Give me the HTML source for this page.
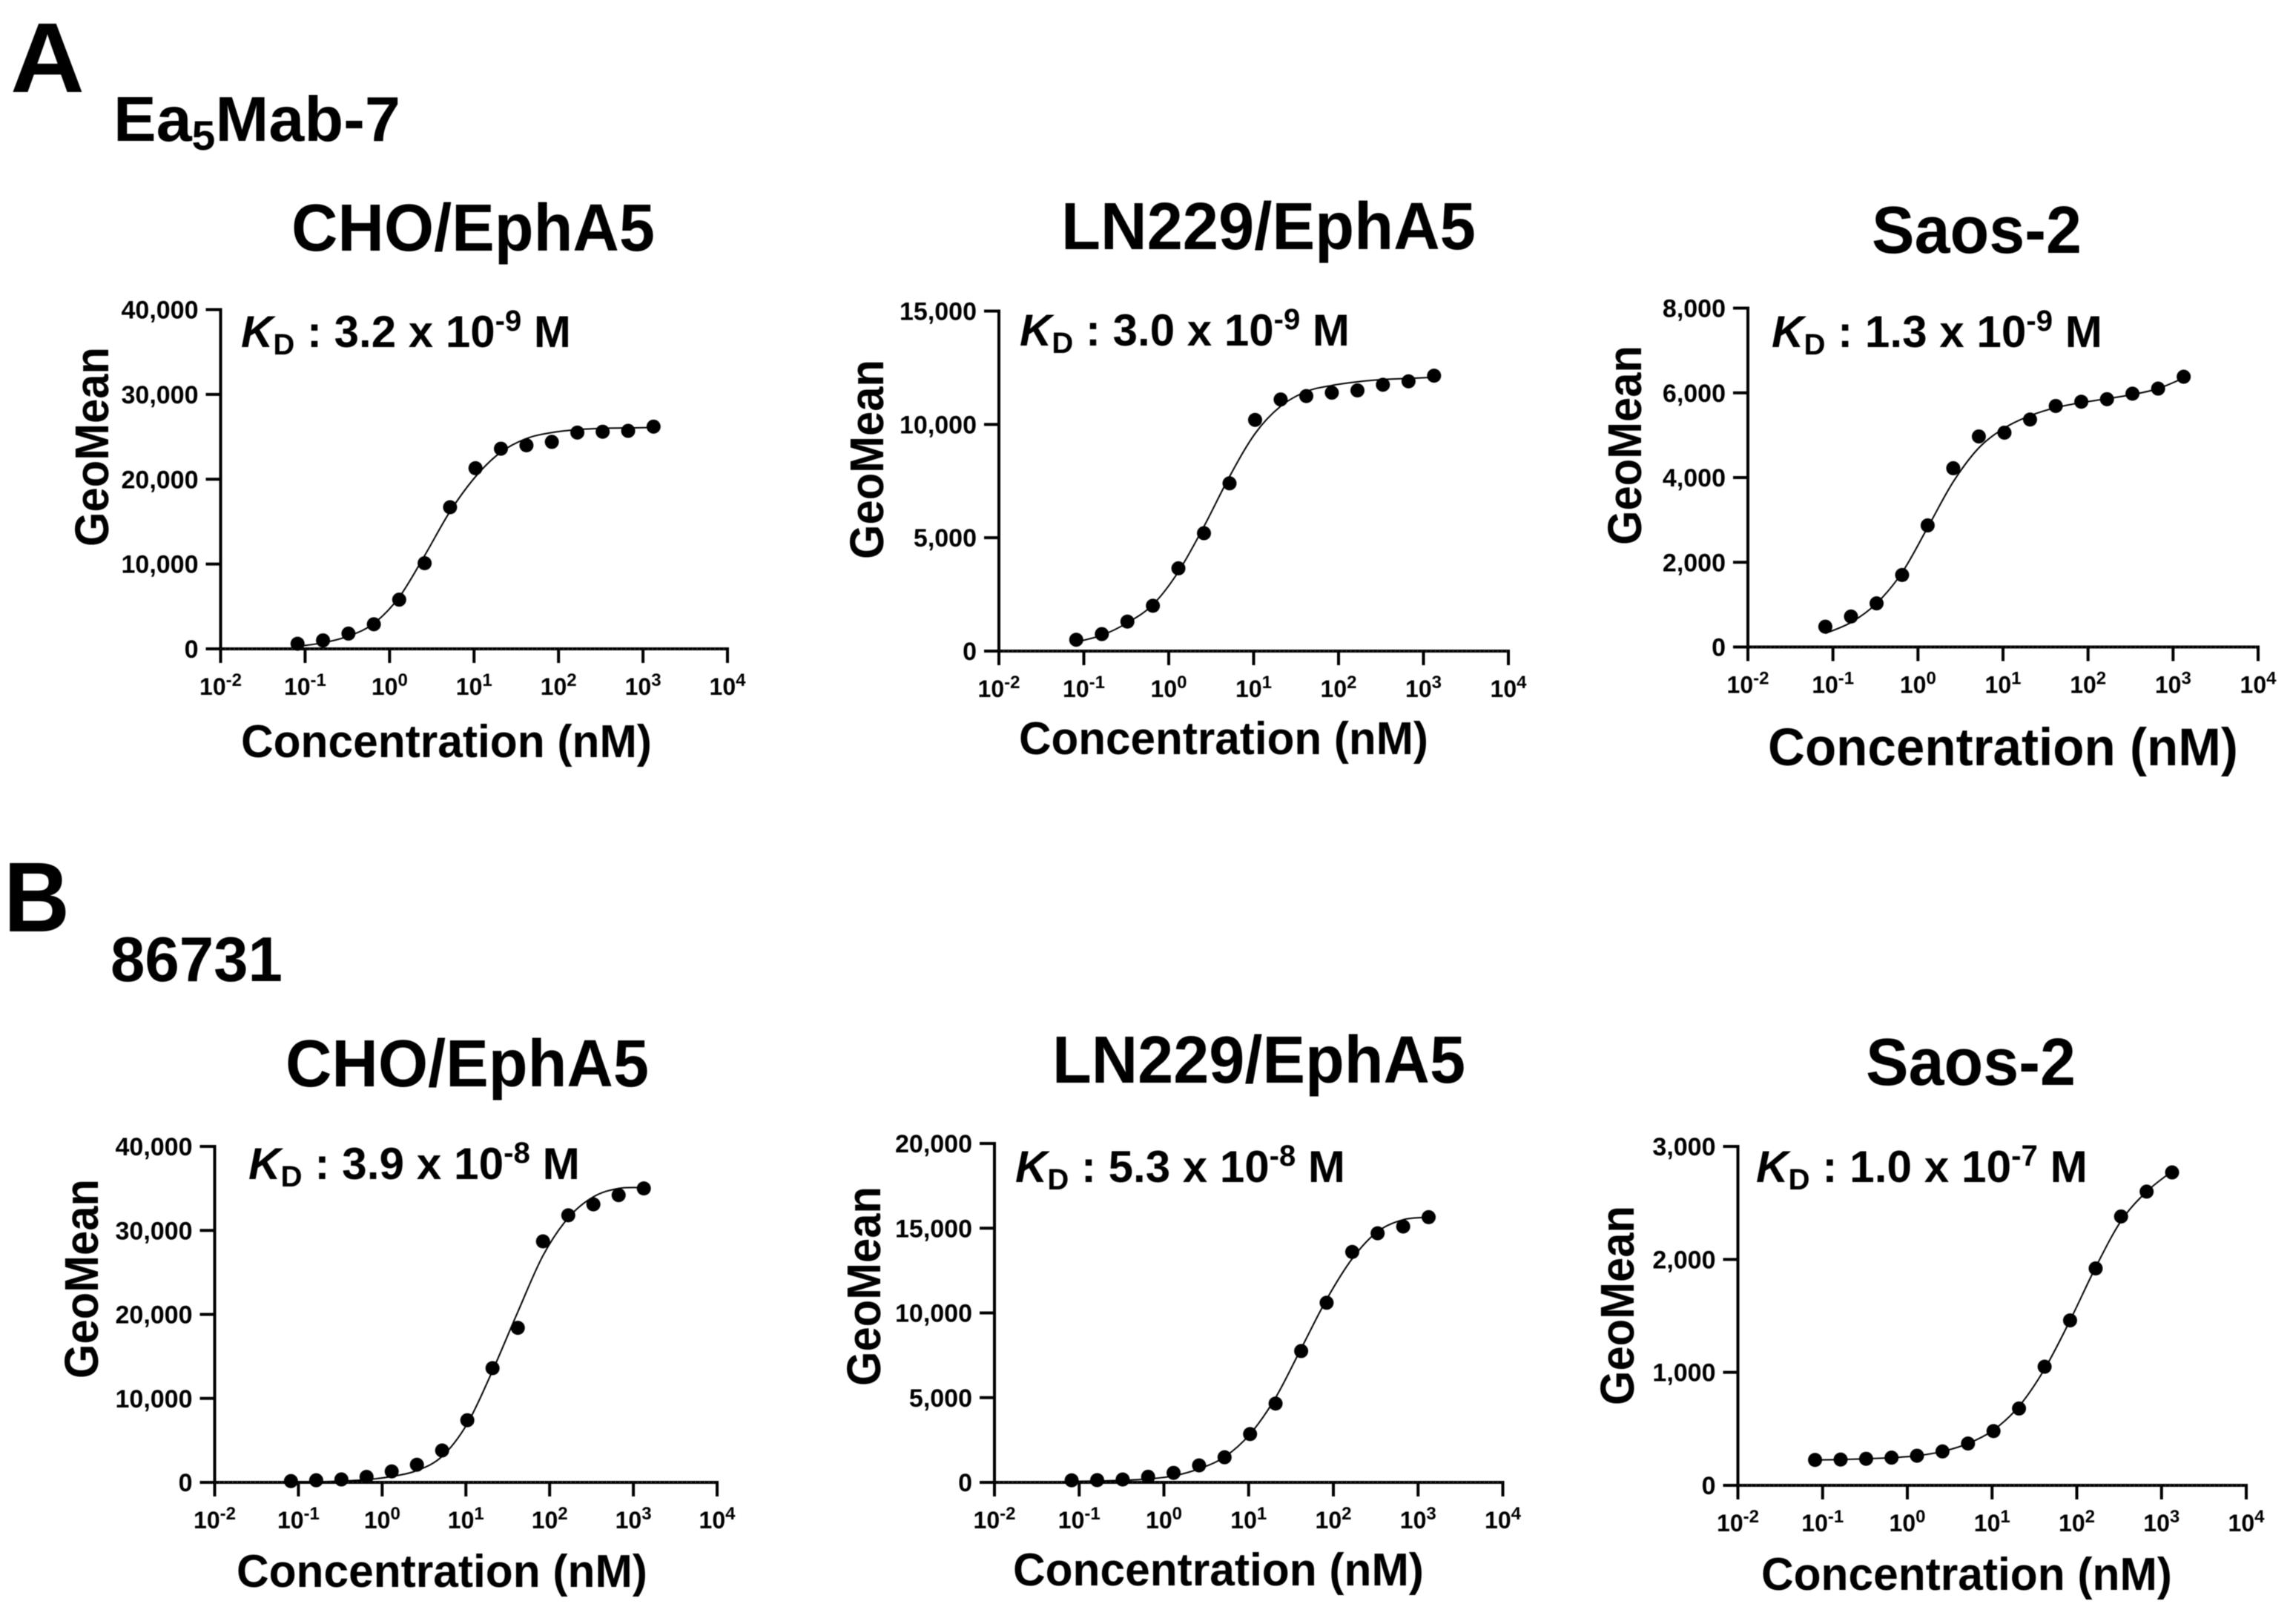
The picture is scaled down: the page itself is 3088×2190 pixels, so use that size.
<!DOCTYPE html>
<html lang="en">
<head>
<meta charset="utf-8">
<title>Ea5Mab-7 and 86731 binding curves</title>
<style>
html,body{margin:0;padding:0;background:#fff;width:3088px;height:2190px;overflow:hidden}
svg{display:block;filter:blur(0.6px)}
text{font-family:"Liberation Sans",Arial,sans-serif;font-weight:700;fill:#000;white-space:pre}
</style>
</head>
<body>
<svg id="figure" xmlns="http://www.w3.org/2000/svg" width="3088" height="2190" viewBox="0 0 3088 2190">
<rect width="3088" height="2190" fill="#fff"/>

<text class="fit" data-pos="14,124" data-w="100" font-size="134">A</text>
<text class="fit" data-pos="153,190" data-w="387" font-size="85">Ea<tspan font-size="56" dy="12">5</tspan><tspan dy="-12">Mab-7</tspan></text>
<text class="fit" data-pos="5,1256" data-w="89" font-size="134">B</text>
<text class="fit" data-pos="149,1323" data-w="232" font-size="85">86731</text>

<text class="fit" data-pos="393,338" data-w="490" font-size="90">CHO/EphA5</text>
<text class="fit" data-pos="1431,336" data-w="559" font-size="90">LN229/EphA5</text>
<text class="fit" data-pos="2524,341" data-w="283" font-size="90">Saos-2</text>
<text class="fit" data-pos="385,1465" data-w="490" font-size="90">CHO/EphA5</text>
<text class="fit" data-pos="1419,1460" data-w="557" font-size="90">LN229/EphA5</text>
<text class="fit" data-pos="2516,1463" data-w="283" font-size="90">Saos-2</text>

<text class="fit" data-pos="325,468" data-w="445" font-size="60"><tspan font-style="italic">K</tspan><tspan font-size="40" dy="10">D</tspan><tspan dy="-10"> : 3.2 x 10</tspan><tspan font-size="40" dy="-22">-9</tspan><tspan dy="22"> M</tspan></text>
<text class="fit" data-pos="1375,466" data-w="445" font-size="60"><tspan font-style="italic">K</tspan><tspan font-size="40" dy="10">D</tspan><tspan dy="-10"> : 3.0 x 10</tspan><tspan font-size="40" dy="-22">-9</tspan><tspan dy="22"> M</tspan></text>
<text class="fit" data-pos="2389,468" data-w="446" font-size="60"><tspan font-style="italic">K</tspan><tspan font-size="40" dy="10">D</tspan><tspan dy="-10"> : 1.3 x 10</tspan><tspan font-size="40" dy="-22">-9</tspan><tspan dy="22"> M</tspan></text>
<text class="fit" data-pos="335,1590" data-w="447" font-size="60"><tspan font-style="italic">K</tspan><tspan font-size="40" dy="10">D</tspan><tspan dy="-10"> : 3.9 x 10</tspan><tspan font-size="40" dy="-22">-8</tspan><tspan dy="22"> M</tspan></text>
<text class="fit" data-pos="1369,1594" data-w="445" font-size="60"><tspan font-style="italic">K</tspan><tspan font-size="40" dy="10">D</tspan><tspan dy="-10"> : 5.3 x 10</tspan><tspan font-size="40" dy="-22">-8</tspan><tspan dy="22"> M</tspan></text>
<text class="fit" data-pos="2368,1594" data-w="447" font-size="60"><tspan font-style="italic">K</tspan><tspan font-size="40" dy="10">D</tspan><tspan dy="-10"> : 1.0 x 10</tspan><tspan font-size="40" dy="-22">-7</tspan><tspan dy="22"> M</tspan></text>

<text class="fit" data-pos="325,1021" data-w="554" font-size="62">Concentration (nM)</text>
<text class="fit" data-pos="1374,1017" data-w="552" font-size="62">Concentration (nM)</text>
<text class="fit" data-pos="2384,1032" data-w="634" font-size="71">Concentration (nM)</text>
<text class="fit" data-pos="319,2140" data-w="554" font-size="62">Concentration (nM)</text>
<text class="fit" data-pos="1366,2138" data-w="554" font-size="62">Concentration (nM)</text>
<text class="fit" data-pos="2375,2144" data-w="554" font-size="62">Concentration (nM)</text>

<text class="fit" data-pos="146,737" data-rot="1" data-w="269" font-size="64">GeoMean</text>
<text class="fit" data-pos="1191,754" data-rot="1" data-w="269" font-size="64">GeoMean</text>
<text class="fit" data-pos="2213,735" data-rot="1" data-w="269" font-size="64">GeoMean</text>
<text class="fit" data-pos="132,1859" data-rot="1" data-w="269" font-size="64">GeoMean</text>
<text class="fit" data-pos="1187,1869" data-rot="1" data-w="269" font-size="64">GeoMean</text>
<text class="fit" data-pos="2203,1895" data-rot="1" data-w="269" font-size="64">GeoMean</text>

<g id="plots"></g>
</svg>

<script>
// Shared x data (nM) and x-axis decade exponents
const concentrations = [0.0814, 0.163, 0.326, 0.651, 1.3, 2.6, 5.2, 10.4, 20.8, 41.7, 83.3, 167, 333, 667, 1333];
const xTickExponents = [-2, -1, 0, 1, 2, 3, 4];

// Panel A: Ea5Mab-7
const a1YTicks = [0, 10000, 20000, 30000, 40000];
const a1Values = [600, 1000, 1800, 2900, 5800, 10100, 16700, 21300, 23600, 24000, 24400, 25500, 25600, 25700, 26200];
const a1Fit = [300, 720, 1500, 3000, 6100, 11000, 16200, 20300, 23200, 24800, 25500, 25850, 26000, 26050, 26100];

const a2YTicks = [0, 5000, 10000, 15000];
const a2Values = [500, 750, 1300, 2000, 3650, 5200, 7400, 10200, 11100, 11250, 11400, 11500, 11750, 11900, 12150];
const a2Fit = [400, 700, 1250, 2050, 3500, 5500, 7700, 9600, 10800, 11450, 11720, 11880, 11980, 12030, 12080];

const a3YTicks = [0, 2000, 4000, 6000, 8000];
const a3Values = [480, 720, 1030, 1700, 2870, 4220, 4970, 5060, 5370, 5690, 5790, 5850, 5980, 6100, 6380];
const a3Fit = [320, 580, 1030, 1760, 2820, 3900, 4700, 5170, 5460, 5650, 5770, 5860, 5960, 6100, 6350];

// Panel B: 86731
const b1YTicks = [0, 10000, 20000, 30000, 40000];
const b1Values = [150, 250, 350, 650, 1300, 2100, 3800, 7400, 13600, 18400, 28700, 31800, 33100, 34200, 35000];
const b1Fit = [30, 70, 150, 320, 700, 1400, 3100, 7000, 13300, 20300, 27000, 31500, 34000, 35000, 35100];

const b2YTicks = [0, 5000, 10000, 15000, 20000];
const b2Values = [120, 130, 170, 330, 560, 1000, 1480, 2850, 4650, 7750, 10600, 13600, 14700, 15100, 15650];
const b2Fit = [60, 80, 120, 200, 380, 800, 1500, 2850, 5000, 7900, 10800, 13200, 14800, 15500, 15650];

const b3YTicks = [0, 1000, 2000, 3000];
const b3Values = [225, 228, 235, 245, 262, 300, 370, 480, 680, 1050, 1460, 1920, 2380, 2600, 2770];
const b3Fit = [225, 228, 235, 245, 262, 300, 370, 490, 700, 1030, 1460, 1930, 2340, 2600, 2780];

const NS = 'http://www.w3.org/2000/svg';
const root = document.getElementById('plots');

function make(tag, parent) {
  const el = document.createElementNS(NS, tag);
  parent.appendChild(el);
  return el;
}

function line(parent, x1, y1, x2, y2, w) {
  const el = make('line', parent);
  el.setAttribute('x1', x1);
  el.setAttribute('y1', y1);
  el.setAttribute('x2', x2);
  el.setAttribute('y2', y2);
  el.setAttribute('stroke', '#000');
  el.setAttribute('stroke-width', w);
  return el;
}

function drawPlot(p) {
  const g = make('g', root);
  
  

  const minExp = xTickExponents[0];
  const maxExp = xTickExponents[xTickExponents.length - 1];
  const xOf = v => p.left + (Math.log10(v) - minExp) / (maxExp - minExp) * (p.right - p.left);
  const xOfExp = e => p.left + (e - minExp) / (maxExp - minExp) * (p.right - p.left);
  const yMax = p.yTicks[p.yTicks.length - 1];
  const yOf = v => p.zero - v / yMax * (p.zero - p.top);

  // y axis
  const yAxis = line(g, p.left, p.top - 2, p.left, p.zero + 19, 4);
  
  

  p.yTicks.forEach(t => {
    const tick = line(g, p.left - 20, yOf(t), p.left, yOf(t), 4);
    
    
    const lab = make('text', g);
    
    
    lab.setAttribute('x', p.left - 30);
    lab.setAttribute('y', yOf(t) + 12);
    lab.setAttribute('text-anchor', 'end');
    lab.setAttribute('font-size', '34');
    lab.textContent = t.toLocaleString('en-US');
  });

  // x axis
  const xAxis = line(g, p.left - 20, p.zero, p.right + 2, p.zero, 4);
  
  
  const xDots = line(g, p.left, p.zero, p.right, p.zero, 1);
  xDots.setAttribute('stroke', '#fff');
  xDots.setAttribute('stroke-dasharray', '1 5');
  xDots.setAttribute('opacity', '0.5');
  
  

  xTickExponents.forEach(e => {
    const x = xOfExp(e);
    const tick = line(g, x, p.zero, x, p.zero + 19, 4);
    
    
    const lab = make('text', g);
    
    
    lab.setAttribute('x', x);
    lab.setAttribute('y', p.zero + 62);
    lab.setAttribute('text-anchor', 'middle');
    lab.setAttribute('font-size', '32');
    const base = make('tspan', lab);
    base.textContent = '10';
    const sup = make('tspan', lab);
    sup.setAttribute('font-size', '24');
    sup.setAttribute('dy', '-12');
    sup.textContent = String(e);
  });

  // Fit curve: Catmull-Rom through the fit values
  const pts = concentrations.map((c, i) => [xOf(c), yOf(p.fit[i])]);
  let d = 'M' + pts[0][0].toFixed(1) + ' ' + pts[0][1].toFixed(1);
  for (let i = 0; i < pts.length - 1; i++) {
    const a = pts[Math.max(0, i - 1)];
    const b = pts[i];
    const c = pts[i + 1];
    const e = pts[Math.min(pts.length - 1, i + 2)];
    const c1x = b[0] + (c[0] - a[0]) / 6;
    const c1y = b[1] + (c[1] - a[1]) / 6;
    const c2x = c[0] - (e[0] - b[0]) / 6;
    const c2y = c[1] - (e[1] - b[1]) / 6;
    d += ' C' + c1x.toFixed(1) + ' ' + c1y.toFixed(1) + ' ' + c2x.toFixed(1) + ' ' + c2y.toFixed(1) + ' ' + c[0].toFixed(1) + ' ' + c[1].toFixed(1);
  }
  const curve = make('path', g);
  
  
  curve.setAttribute('d', d);
  curve.setAttribute('fill', 'none');
  curve.setAttribute('stroke', '#000');
  curve.setAttribute('stroke-width', '2');

  // Data points
  p.values.forEach((v, i) => {
    const dot = make('circle', g);
    
    
    dot.setAttribute('cx', xOf(concentrations[i]));
    dot.setAttribute('cy', yOf(v));
    dot.setAttribute('r', '9.5');
    dot.setAttribute('fill', '#000');
  });
}

drawPlot({left: 297.5, right: 981, top: 417.5, zero: 875, yTicks: a1YTicks, values: a1Values, fit: a1Fit});
drawPlot({left: 1347, right: 2034, top: 419.5, zero: 878, yTicks: a2YTicks, values: a2Values, fit: a2Fit});
drawPlot({left: 2357, right: 3045, top: 415.5, zero: 872.5, yTicks: a3YTicks, values: a3Values, fit: a3Fit});
drawPlot({left: 289.5, right: 967, top: 1546, zero: 1999, yTicks: b1YTicks, values: b1Values, fit: b1Fit});
drawPlot({left: 1341, right: 2026.5, top: 1542, zero: 1999, yTicks: b2YTicks, values: b2Values, fit: b2Fit});
drawPlot({left: 2343.5, right: 3029, top: 1546, zero: 2003, yTicks: b3YTicks, values: b3Values, fit: b3Fit});

// Position the static labels and stretch each one to its measured width in the figure
document.querySelectorAll('text.fit').forEach(el => {
  const pos = el.getAttribute('data-pos').split(',');
  const target = parseFloat(el.getAttribute('data-w'));
  const natural = el.getComputedTextLength();
  const s = natural > 0 ? target / natural : 1;
  const rot = el.getAttribute('data-rot') ? ' rotate(-90)' : '';
  el.setAttribute('transform', 'translate(' + pos[0] + ' ' + pos[1] + ')' + rot + ' scale(' + s.toFixed(4) + ' 1)');
});
</script>
</body>
</html>
